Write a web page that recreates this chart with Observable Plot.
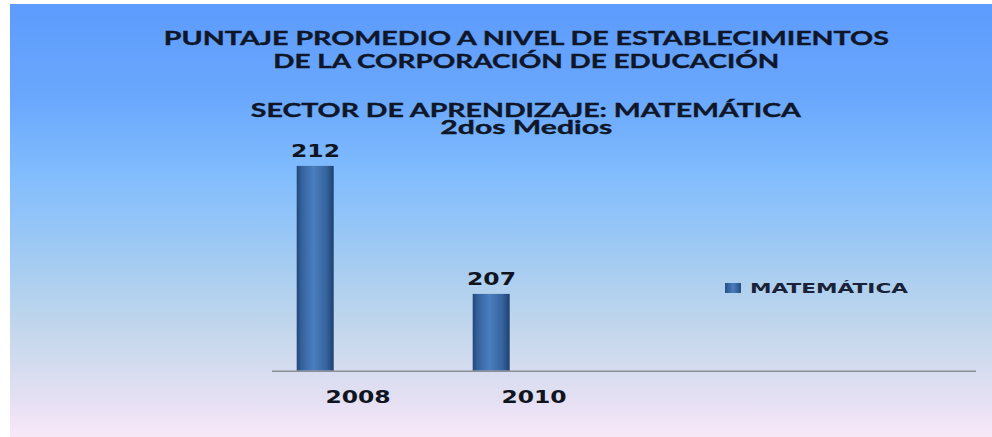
<!DOCTYPE html>
<html>
<head>
<meta charset="utf-8">
<script src="https://cdn.jsdelivr.net/npm/d3@7"></script>
<script src="https://cdn.jsdelivr.net/npm/@observablehq/plot@0.6"></script>
<style>
  html, body { margin: 0; padding: 0; background: #ffffff; }
  #page { position: relative; width: 992px; height: 437px; overflow: hidden; }
  #bg {
    position: absolute; left: 10px; top: 4px; width: 982px; height: 433px;
    background: linear-gradient(to bottom,
      #5d9bfd 0%, #6aa8fd 22%, #82bdfd 40%, #9cc8f4 55%, #bcd5ec 72%,
      #d5dcef 84%, #e6e0f4 92%, #f8e9f8 100%);
  }
  #chart { position: absolute; left: 0; top: 0; }
  .tline {
    position: absolute; left: 30px; width: 992px; text-align: center;
    font-family: Lato, "Open Sans", sans-serif; font-weight: 700; font-size: 18px;
    line-height: 16px; color: #0e1628; white-space: nowrap; z-index: 2;
    -webkit-text-stroke: 0.35px #0e1628;
  }
  .tline span { display: inline-block; transform-origin: center; }
  #legend { position: absolute; left: 725px; top: 281px; height: 14px; z-index: 2; white-space: nowrap; }
  #legend .sw { position: absolute; left: 0; top: 2px; width: 16px; height: 10px;
    background: linear-gradient(to right, #264f84, #4a7ebd 50%, #254c80); }
  #legend .lt { position: absolute; left: 25px; top: 0; font-family: "DejaVu Sans", sans-serif;
    font-weight: 700; font-size: 14px; line-height: 14px; color: #1a2238; transform-origin: left center; display: inline-block; }
</style>
</head>
<body>
<div id="page">
  <div id="bg"></div>
  <div class="tline" style="top:30.3px"><span data-w="725" id="t1"></span></div>
  <div class="tline" style="top:53.3px"><span data-w="506" id="t2"></span></div>
  <div class="tline" style="top:101.5px"><span data-w="550" id="t3"></span></div>
  <div class="tline" style="top:119.2px"><span data-w="172" id="t4"></span></div>
  <div id="chart"></div>
  <div id="legend"><div class="sw"></div><span class="lt" data-w="158" id="lg"></span></div>
</div>
<svg width="0" height="0" style="position:absolute">
  <defs>
    <linearGradient id="barGrad" x1="0" x2="1" y1="0" y2="0">
      <stop offset="0%" stop-color="#224676"/>
      <stop offset="12%" stop-color="#33609b"/>
      <stop offset="45%" stop-color="#4a7ebd"/>
      <stop offset="80%" stop-color="#36649f"/>
      <stop offset="100%" stop-color="#1f406d"/>
    </linearGradient>
  </defs>
</svg>
<script>
// ---- data ----
const titleLines = [
  "PUNTAJE PROMEDIO A NIVEL DE ESTABLECIMIENTOS",
  "DE LA CORPORACIÓN DE EDUCACIÓN",
  "SECTOR DE APRENDIZAJE: MATEMÁTICA",
  "2dos Medios"
];
const seriesName = "MATEMÁTICA";
const years = ["2008", "2010"];
const values = [212, 207];
const xSlots = ["2008", "2010", "slot3", "slot4"];
const yMin = 204;
const yMax = 214;

const data = years.map((y, i) => ({year: y, value: values[i]}));

// ---- titles ----
["t1", "t2", "t3", "t4"].forEach((id, i) => {
  document.getElementById(id).textContent = titleLines[i];
});
document.getElementById("lg").textContent = seriesName;

function stretchHtml(el) {
  const target = +el.dataset.w;
  const w = el.getBoundingClientRect().width;
  if (w > 0) el.style.transform = `scaleX(${target / w})`;
}

// ---- chart ----
const chart = Plot.plot({
  width: 992,
  height: 437,
  marginLeft: 272,
  marginRight: 16,
  marginTop: 114.7,
  marginBottom: 66.3,
  style: "background: transparent; overflow: visible;",
  x: {type: "band", domain: xSlots, padding: 0, axis: null},
  y: {domain: [yMin, yMax], axis: null},
  marks: [
    Plot.barY(data, {
      x: "year", y1: () => yMin, y2: "value",
      insetLeft: 24.7, insetRight: 114.3,
      fill: "url(#barGrad)"
    }),
    Plot.ruleY([yMin], {stroke: "#8a8e95", strokeWidth: 1.6}),
    Plot.text(data, {
      x: "year", y: "value", text: d => String(d.value),
      dx: -45, dy: -9, lineAnchor: "bottom",
      fontFamily: "DejaVu Sans", fontWeight: 700, fontSize: 17, fill: "#10141f"
    }),
    Plot.axisX({
      ticks: years, tickSize: 0, tickPadding: 19.5, label: null,
      fontFamily: "DejaVu Sans", fontWeight: 700, fontSize: 17, fill: "#10141f",
      dx: -2.5
    })
  ]
});
document.getElementById("chart").appendChild(chart);

// stretch the wide labels
d3.select(chart).selectAll("g[aria-label='text'] text, g[aria-label='x-axis tick label'] text")
  .each(function() {
    const n = this.textContent.length;
    this.setAttribute("textLength", n * 16.3);
    this.setAttribute("lengthAdjust", "spacingAndGlyphs");
  });

document.fonts.ready.then(() => {
  document.querySelectorAll("[data-w]").forEach(stretchHtml);
});
</script>
</body>
</html>
